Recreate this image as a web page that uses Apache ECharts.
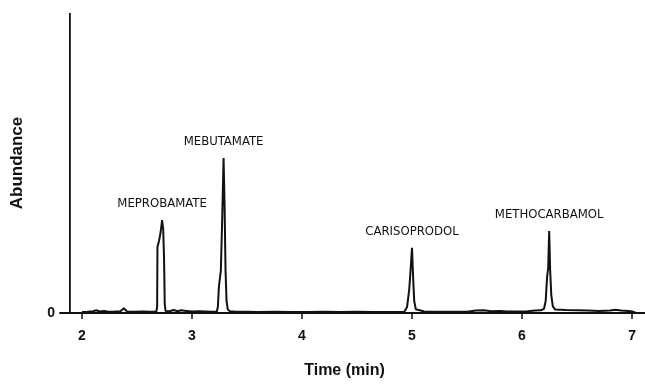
<!DOCTYPE html>
<html>
<head>
<meta charset="utf-8">
<script src="https://cdn.jsdelivr.net/npm/echarts@6/dist/echarts.min.js"></script>
<style>
  html, body { margin: 0; padding: 0; background: #fff; }
  #chart { width: 645px; height: 384px; }
</style>
</head>
<body>
<div id="chart"></div>
<script>
// chromatogram trace (time in min, abundance in arbitrary units)
var traceTimes = [
  2.00, 2.05, 2.10, 2.13, 2.16, 2.20, 2.24, 2.30, 2.35, 2.38, 2.41, 2.47, 2.55, 2.62,
  2.675, 2.683, 2.686, 2.70, 2.715, 2.728, 2.738, 2.746, 2.752, 2.76,
  2.80, 2.83, 2.87, 2.90, 2.95, 3.00, 3.06, 3.12, 3.18,
  3.225, 3.235, 3.245, 3.262, 3.275, 3.287, 3.296, 3.305, 3.314, 3.325, 3.345,
  3.40, 3.50, 3.60, 3.75, 3.90, 4.05, 4.20, 4.35, 4.50, 4.65, 4.80,
  4.93, 4.955, 4.975, 4.99, 5.00, 5.01, 5.02, 5.035, 5.07, 5.11,
  5.20, 5.35, 5.50, 5.58, 5.65, 5.72, 5.80, 5.86, 5.95, 6.05, 6.12, 6.17,
  6.20, 6.215, 6.228, 6.238, 6.247, 6.256, 6.266, 6.28, 6.30,
  6.40, 6.50, 6.60, 6.70, 6.80, 6.85, 6.90, 6.97, 7.00, 7.03
];
var traceAbund = [
  0.3, 0.4, 0.6, 0.9, 0.5, 0.7, 0.4, 0.5, 0.6, 1.6, 0.5, 0.4, 0.5, 0.4,
  0.4, 2, 22, 24, 27, 31, 28, 18, 3, 0.6,
  0.6, 1.0, 0.6, 0.9, 0.7, 0.5, 0.6, 0.5, 0.4,
  0.4, 2, 9, 14, 32, 51.7, 36, 14, 4, 1.2, 0.6,
  0.4, 0.4, 0.3, 0.4, 0.3, 0.3, 0.4, 0.3, 0.4, 0.3, 0.3,
  0.4, 2, 8, 16, 21.7, 12, 4, 1.2, 0.9, 0.5,
  0.4, 0.4, 0.4, 0.8, 0.9, 0.6, 0.7, 0.5, 0.5, 0.6, 0.8, 0.9,
  1.4, 4, 12, 15, 27.3, 14, 6, 2.2, 1.2,
  1.0, 0.9, 0.8, 0.7, 0.8, 1.1, 0.8, 0.7, 0.5, 0.2
];

// solvent front, off scale
var solventTimes = [1.89, 1.89];
var solventAbund = [0, 100];

var peakNames = ["MEPROBAMATE", "MEBUTAMATE", "CARISOPRODOL", "METHOCARBAMOL"];
var peakTimes = [2.728, 3.287, 5.00, 6.247];
var peakHeights = [31, 51.7, 21.7, 27.3];

var timeTicks = [2, 3, 4, 5, 6, 7];

var chart = echarts.init(document.getElementById("chart"));

var traceData = traceTimes.map(function (t, i) { return [t, traceAbund[i]]; });
var solventData = solventTimes.map(function (t, i) { return [t, solventAbund[i]]; });
var peakMarks = peakNames.map(function (n, i) {
  return { name: n, coord: [peakTimes[i], peakHeights[i]] };
});

var option = {
  animation: false,
  grid: { left: 60, right: 0, top: 13, bottom: 71 },
  xAxis: {
    type: "value",
    min: 1.8,
    max: 7.118,
    name: "Time (min)",
    nameLocation: "middle",
    nameGap: 50,
    nameTextStyle: {
      fontFamily: "Liberation Sans, Arial, sans-serif",
      fontWeight: "bold",
      fontSize: 16,
      color: "#111",
      padding: [0, 16, 0, 0]
    },
    axisLine: { lineStyle: { color: "#111", width: 2 } },
    axisTick: {
      customValues: timeTicks,
      length: 6,
      lineStyle: { color: "#111", width: 1.5 }
    },
    axisLabel: {
      customValues: timeTicks,
      margin: 16,
      fontFamily: "Liberation Sans, Arial, sans-serif",
      fontWeight: "bold",
      fontSize: 14,
      color: "#111"
    },
    splitLine: { show: false }
  },
  yAxis: {
    type: "value",
    min: 0,
    max: 100,
    name: "Abundance",
    nameLocation: "middle",
    nameGap: 34,
    nameTextStyle: {
      fontFamily: "Liberation Sans, Arial, sans-serif",
      fontWeight: "bold",
      fontSize: 17,
      color: "#111"
    },
    axisLine: { show: false },
    axisTick: { show: false },
    splitLine: { show: false },
    axisLabel: {
      margin: 5,
      fontFamily: "Liberation Sans, Arial, sans-serif",
      fontWeight: "bold",
      fontSize: 14,
      color: "#111",
      formatter: function (v) { return v === 0 ? "0" : ""; }
    }
  },
  series: [
    {
      name: "solvent",
      type: "line",
      data: solventData,
      symbol: "none",
      lineStyle: { color: "#111", width: 1.8 }
    },
    {
      name: "trace",
      type: "line",
      data: traceData,
      symbol: "none",
      lineStyle: { color: "#111", width: 2 },
      markPoint: {
        symbol: "circle",
        symbolSize: 0,
        data: peakMarks,
        label: {
          show: true,
          position: "top",
          distance: 10,
          formatter: "{b}",
          fontFamily: "Liberation Sans Narrow, DejaVu Sans Condensed, sans-serif",
          fontSize: 13,
          color: "#111"
        }
      }
    }
  ]
};

chart.setOption(option);
</script>
</body>
</html>
